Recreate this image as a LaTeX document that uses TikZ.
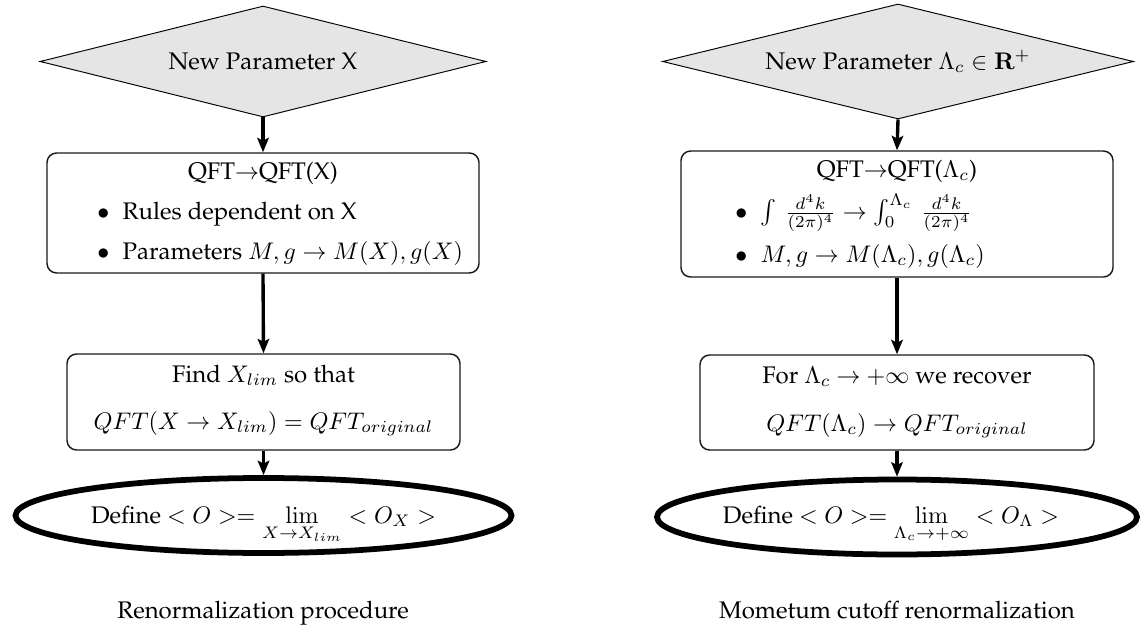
\documentclass[tikz,border=0pt]{standalone}
\usepackage[T1]{fontenc}
\renewcommand{\rmdefault}{ppl}
\usetikzlibrary{shapes.geometric,arrows.meta}
\newdimen\pxu \pxu=0.4167pt
\tikzset{
  decision/.style={diamond, draw=black, line width=0.4pt, fill=gray!20, aspect=4, inner sep=0pt},
  roundbox/.style={draw=black!90, line width=0.6pt, rounded corners=4pt, inner sep=0pt},
  endnode/.style={ellipse, draw=black, line width=2.4pt, inner sep=0pt},
  arr/.style={line width=1.4pt, -{Stealth[length=6pt,width=4.8pt,inset=1.2pt]}},
  txt/.style={inner sep=0pt, anchor=base},
  itm/.style={inner sep=0pt, anchor=base west},
}
\newcommand{\bul}{\makebox[10.5pt][l]{$\bullet$}}
\begin{document}
\begin{tikzpicture}[x=\pxu, y=-\pxu]
\useasboundingbox (0,0) rectangle (1141,626);
% ---------- left column ----------
\node[decision, minimum width=446*\pxu, minimum height=111*\pxu] (ld) at (263,61.5) {New Parameter X};
\node[roundbox, minimum width=432*\pxu, minimum height=120*\pxu] (lb1) at (263,213) {};
\node[txt] (lb1t) at (263,180) {QFT$\rightarrow$QFT(X)};
\node[itm] (lb1a) at (97,219) {\bul Rules dependent on X};
\node[itm] (lb1b) at (97,259) {\bul Parameters $M,g\rightarrow M(X),g(X)$};
\node[roundbox, minimum width=393*\pxu, minimum height=96*\pxu] (lb2) at (263.5,402) {};
\node[txt] (lb2a) at (263.5,382) {Find $X_{lim}$ so that};
\node[txt] (lb2b) at (263.5,429) {$QFT(X\rightarrow X_{lim})=QFT_{original}$};
\node[endnode, minimum width=496*\pxu, minimum height=75*\pxu] (le) at (263.5,515.5) {};
\node[txt] (let) at (263.5,523) {Define $<O>=\lim\limits_{X\rightarrow X_{lim}}<O_X>$};
\node[txt] (lcap) at (263,618) {Renormalization procedure};
\draw[arr] (ld.south) -- (lb1.north);
\draw[arr] (lb1.south) -- (lb2.north);
\draw[arr] (lb2.south) -- (le.north);
% ---------- right column ----------
\node[decision, minimum width=471*\pxu, minimum height=115*\pxu] (rd) at (898,61.5) {New Parameter $\Lambda_c\in\mathbf{R}^+$};
\node[roundbox, minimum width=432*\pxu, minimum height=126*\pxu] (rb1) at (897,214) {};
\node[txt] (rb1t) at (897,177) {QFT$\rightarrow$QFT($\Lambda_c$)};
\node[itm] (rb1a) at (735,219) {\bul $\int\,\frac{d^4k}{(2\pi)^4}\rightarrow\int_0^{\Lambda_c}\,\frac{d^4k}{(2\pi)^4}$};
\node[itm] (rb1b) at (735,262) {\bul $M,g\rightarrow M(\Lambda_c),g(\Lambda_c)$};
\node[roundbox, minimum width=394*\pxu, minimum height=95*\pxu] (rb2) at (897,402.5) {};
\node[txt] (rb2a) at (897,383) {For $\Lambda_c$ $\rightarrow$ $+\infty$ we recover};
\node[txt] (rb2b) at (897,431) {$QFT(\Lambda_c)\rightarrow QFT_{original}$};
\node[endnode, minimum width=480*\pxu, minimum height=75*\pxu] (re) at (897,517) {};
\node[txt] (ret) at (891,523) {Define $<O>=\lim\limits_{\Lambda_c\rightarrow+\infty}<O_\Lambda>$};
\node[txt] (rcap) at (897,618) {Mometum cutoff renormalization};
\draw[arr] (rd.south) -- (rb1.north);
\draw[arr] (rb1.south) -- (rb2.north);
\draw[arr] (rb2.south) -- (re.north);
\end{tikzpicture}
\end{document}
